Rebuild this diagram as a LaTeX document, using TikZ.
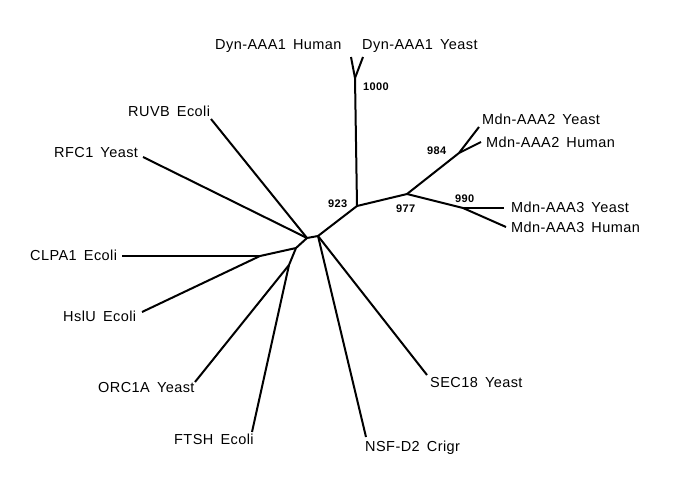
\documentclass[tikz,border=0pt]{standalone}
\usepackage{fontspec}
\setmainfont{Liberation Sans}[LetterSpace=3,WordSpace=1.6]
\begin{document}
\begin{tikzpicture}[x=1pt,y=-1pt,
  branch/.style={line width=2pt, line join=round},
  leaf/.style={inner sep=0pt, anchor=base west, font=\fontsize{14.5}{16}\selectfont},
  boot/.style={inner sep=0pt, anchor=base west, font=\fontsize{11}{12}\selectfont\bfseries}]
\useasboundingbox (0,0) rectangle (685,495);
% internal nodes
\coordinate (A) at (307,238);
\coordinate (B) at (318,236);
\coordinate (C) at (357,206);
\coordinate (D) at (355,78);
\coordinate (E) at (407,194);
\coordinate (F) at (459,153);
\coordinate (G) at (463,208);
\coordinate (P) at (296,248);
\coordinate (Q) at (260,256);
\coordinate (R) at (289,265);
% leaf tips
\coordinate (tDynH) at (351,57);
\coordinate (tDynY) at (363,57);
\coordinate (tM2Y) at (479,127);
\coordinate (tM2H) at (481,142);
\coordinate (tM3Y) at (504,208);
\coordinate (tM3H) at (506,227);
\coordinate (tRUVB) at (211,119);
\coordinate (tRFC) at (143,157);
\coordinate (tCLPA) at (122,256);
\coordinate (tHslU) at (142,312);
\coordinate (tORC) at (195,382);
\coordinate (tFTSH) at (252,432);
\coordinate (tNSF) at (366,437);
\coordinate (tSEC) at (427,375);
% branches
\draw[branch] (tRUVB) -- (A);
\draw[branch] (tRFC) -- (A);
\draw[branch] (A) -- (B);
\draw[branch] (A) -- (P);
\draw[branch] (B) -- (C);
\draw[branch] (B) -- (tNSF);
\draw[branch] (B) -- (tSEC);
\draw[branch] (C) -- (D);
\draw[branch] (D) -- (tDynH);
\draw[branch] (D) -- (tDynY);
\draw[branch] (C) -- (E);
\draw[branch] (E) -- (F);
\draw[branch] (F) -- (tM2Y);
\draw[branch] (F) -- (tM2H);
\draw[branch] (E) -- (G);
\draw[branch] (G) -- (tM3Y);
\draw[branch] (G) -- (tM3H);
\draw[branch] (P) -- (Q);
\draw[branch] (Q) -- (tCLPA);
\draw[branch] (Q) -- (tHslU);
\draw[branch] (P) -- (R);
\draw[branch] (R) -- (tORC);
\draw[branch] (R) -- (tFTSH);
% leaf labels
\node[leaf] (lDynH) at (215,50) {Dyn-AAA1 Human};
\node[leaf] (lDynY) at (362,50) {Dyn-AAA1 Yeast};
\node[leaf] (lM2Y) at (482,124) {Mdn-AAA2 Yeast};
\node[leaf] (lM2H) at (486,147) {Mdn-AAA2 Human};
\node[leaf] (lM3Y) at (511,212) {Mdn-AAA3 Yeast};
\node[leaf] (lM3H) at (511,232) {Mdn-AAA3 Human};
\node[leaf] (lRUVB) at (128,116) {RUVB Ecoli};
\node[leaf] (lRFC) at (54,157) {RFC1 Yeast};
\node[leaf] (lCLPA) at (30,260) {CLPA1 Ecoli};
\node[leaf] (lHslU) at (63,321) {HslU Ecoli};
\node[leaf] (lORC) at (98,392) {ORC1A Yeast};
\node[leaf] (lFTSH) at (174,444) {FTSH Ecoli};
\node[leaf] (lNSF) at (365,451) {NSF-D2 Crigr};
\node[leaf] (lSEC) at (430,387) {SEC18 Yeast};
% bootstrap values
\node[boot] (b1000) at (363,90) {1000};
\node[boot] (b923) at (328,207) {923};
\node[boot] (b977) at (396,212) {977};
\node[boot] (b984) at (427,154) {984};
\node[boot] (b990) at (455,202) {990};
\end{tikzpicture}
\end{document}
